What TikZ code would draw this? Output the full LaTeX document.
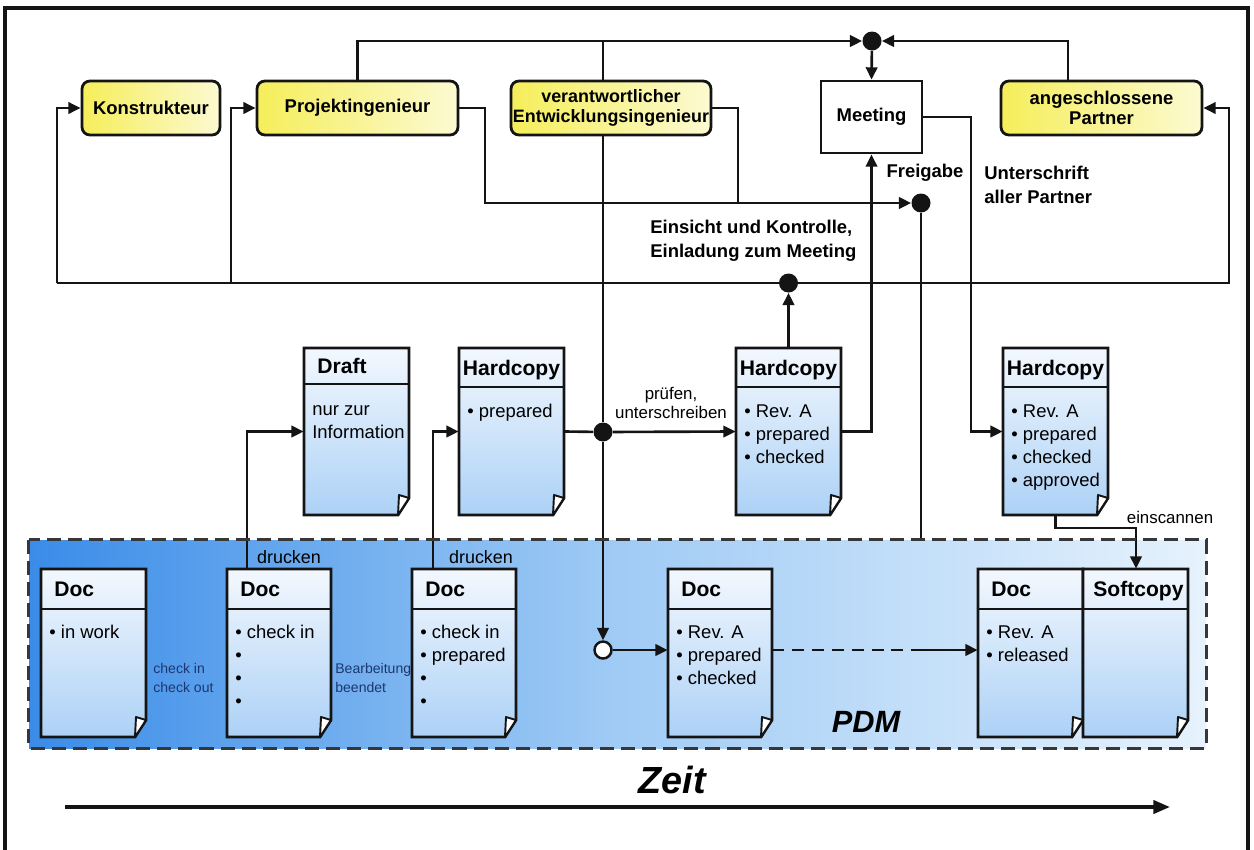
\documentclass[tikz,border=0pt]{standalone}
\usepackage{fontspec}
\setmainfont{Liberation Sans}
\usetikzlibrary{arrows.meta,fit}

\definecolor{ink}{RGB}{20,20,20}
\definecolor{roleL}{RGB}{245,238,90}
\definecolor{roleR}{RGB}{252,250,210}
\definecolor{docTop}{RGB}{243,248,254}
\definecolor{docBot}{RGB}{172,209,246}
\definecolor{pdmL}{RGB}{58,140,232}
\definecolor{pdmM}{RGB}{160,203,245}
\definecolor{pdmR}{RGB}{230,242,253}
\definecolor{noteblue}{RGB}{30,55,110}

% paper sheet with header band and folded corner
% #1 name, #2 x1, #3 y1, #4 x2, #5 y2, #6 header line y, #7 title, #8 title indent
\newcommand{\paperdoc}[8]{%
  \path[docbody] (#2,#3) -- (#4,#3) -- (#4,#5-17) -- (#4-11,#5) -- (#2,#5) -- cycle;
  \draw[docline] (#2,#3) -- (#4,#3) -- (#4,#5-17) -- (#4-11,#5) -- (#2,#5) -- cycle;
  \draw[docline] (#2,#6) -- (#4,#6);
  \draw[docline, fill=white, line join=round, line width=1.1pt] (#4,#5-17) -- (#4-10,#5-20) -- (#4-11,#5) -- cycle;
  \node[fit={(#2,#3)(#4,#5)}, inner sep=0pt] (#1) {};
  \node[doctitle, anchor=base west] (#1-title) at (#2+#8,{(#3+#6)/2+7.5}) {#7};
}
% list entries of a sheet: #1 name, #2 x, #3 first baseline y, #4 entries
\newcommand{\docitems}[4]{%
  \foreach \t [count=\i] in {#4} {
    \node[docitem, anchor=base west] (#1-\i) at (#2,{#3+(\i-1)*23}) {\t};
  }
}

\begin{document}
\begin{tikzpicture}[x=0.02cm,y=-0.02cm,
  conn/.style={line width=1.5pt, draw=ink},
  arr/.style={conn, -{Triangle[length=7pt,width=6.5pt]}},
  role/.style={draw=ink, line width=1.6pt, rounded corners=4.5pt,
    left color=roleL, right color=roleR, align=center, inner sep=0pt,
    minimum height=1.08cm, font=\fontsize{10.5}{11.5}\selectfont\bfseries},
  meet/.style={draw=ink, line width=1.6pt, fill=white, inner sep=0pt,
    font=\fontsize{10.5}{12}\selectfont\bfseries},
  dot/.style={circle, fill=ink, inner sep=0pt, minimum size=0.38cm},
  odot/.style={circle, draw=ink, fill=white, line width=1.4pt, inner sep=0pt, minimum size=0.34cm},
  docline/.style={draw=ink, line width=1.6pt},
  docbody/.style={top color=docTop, bottom color=docBot},
  doctitle/.style={font=\fontsize{12}{14}\selectfont\bfseries, inner sep=0pt},
  docitem/.style={font=\fontsize{10.5}{12}\selectfont, inner sep=0pt},
  boldlbl/.style={inner sep=0pt, align=left, font=\fontsize{10.5}{13.5}\selectfont\bfseries},
  smalllbl/.style={inner sep=0pt, align=center, font=\fontsize{9.6}{10.8}\selectfont},
  notelbl/.style={inner sep=0pt, align=left, text=noteblue, font=\fontsize{8}{11.3}\selectfont},
]
\useasboundingbox (0,0) rectangle (1254,849);

% outer frame
\draw[line width=1.8pt, ink] (5,880) -- (5,8) -- (1248,8) -- (1248,880);

% PDM area
\path[left color=pdmL, right color=pdmR, middle color=pdmM] (29,540) rectangle (1206,748);
\node[fit={(29,540)(1206,748)}, inner sep=0pt] (pdm) {};

% roles
\node[role, minimum width=2.76cm] (kon) at (151,108) {Konstrukteur};
\node[role, minimum width=4.02cm] (proj) at (357.5,108) {Projektingenieur};
\node[role, minimum width=4.0cm, font=\fontsize{10.2}{11.5}\selectfont\bfseries] (ver) at (611,108) {verantwortlicher\\Entwicklungsingenieur};
\node[meet, minimum width=2.02cm, minimum height=1.44cm] (meet) at (871.5,117) {Meeting};
\node[role, minimum width=4.02cm] (part) at (1101.5,108) {angeschlossene\\Partner};

% sheets
\paperdoc{draft}{304}{348}{409}{515}{384}{Draft}{13}
\docitems{draft}{312}{415}{nur zur, Information}
\paperdoc{hc1}{459}{348}{564}{515}{387}{Hardcopy}{3.5}
\docitems{hc1}{467}{417}{• prepared}
\paperdoc{hc2}{736}{348}{841}{515}{387}{Hardcopy}{3.5}
\docitems{hc2}{744}{417}{• Rev. A, • prepared, • checked}
\paperdoc{hc3}{1003}{348}{1108}{515}{387}{Hardcopy}{3.5}
\docitems{hc3}{1011}{417}{• Rev. A, • prepared, • checked, • approved}

\paperdoc{doc1}{41}{569}{146}{737}{609}{Doc}{13}
\docitems{doc1}{49}{638}{• in work}
\paperdoc{doc2}{227}{569}{331}{737}{609}{Doc}{13}
\docitems{doc2}{235}{638}{• check in, •, •, •}
\paperdoc{doc3}{412}{569}{516}{737}{609}{Doc}{13}
\docitems{doc3}{420}{638}{• check in, • prepared, •, •}
\paperdoc{doc4}{668}{569}{772}{737}{609}{Doc}{13}
\docitems{doc4}{676}{638}{• Rev. A, • prepared, • checked}
\paperdoc{doc5}{978}{569}{1083}{737}{609}{Doc}{13}
\docitems{doc5}{986}{638}{• Rev. A, • released}
\paperdoc{soft}{1083}{569}{1188}{737}{609}{Softcopy}{10}

% junctions
\node[dot] (top) at (872,41) {};
\node[dot] (fg) at (921,203) {};
\node[dot] (ein) at (788.5,283) {};
\node[dot] (x) at (603,432) {};
\node[odot] (o) at (603,650) {};

\coordinate (kL) at (57,283);
\coordinate (pL) at (231,283);
\coordinate (rR) at (1229,283);
\coordinate (vTop) at (603,41);
\coordinate (partUp) at (1068,41);
\coordinate (pjR) at (485,108);
\coordinate (vrR) at (738,108);
\coordinate (mR) at (971,117);
\coordinate (d2up) at (247,569);
\coordinate (d3up) at (433,569);
\coordinate (dashend) at (911,650);
\coordinate (scan) at (1136,528);

% connectors of the roles
\draw[arr] (proj.north) |- (top.west);
\draw[conn] (vTop) -- (vTop |- ver.north);
\draw[arr] (partUp |- part.north) |- (top.east);
\draw[arr] (top) -- (meet.north);
\draw[arr] (kL) |- (kon.west);
\draw[arr] (pL) |- (proj.west);
\draw[arr] (kL) -- (rR) |- (part.east);
\draw[arr] (hc2.north) -- (ein);
\draw[arr] (proj.east) -- (pjR) |- (fg.west);
\draw[conn] (ver.east) -- (vrR) -- (vrR |- fg);
\draw[conn] (fg) -- (fg |- pdm.north);
\draw[arr] (meet.east) -- (mR) |- (hc3.west);
\draw[arr] (hc2.east) -| (meet.south);

% document flow
\draw[conn] (hc1.east) -- (x);
\draw[arr] (x) -- (hc2.west);
\draw[conn] (vTop |- ver.south) -- (x);
\draw[arr] (x) -- (o);
\draw[arr] (d2up) |- (draft.west);
\draw[arr] (d3up) |- (hc1.west);
\draw[arr] (o) -- (o -| doc4.west);
\draw[conn, dash pattern=on 6.8pt off 4.5pt] (o -| doc4.east) -- (dashend);
\draw[arr] (dashend) -- (dashend -| doc5.west);
\draw[arr] (hc3.south) |- (scan) -- (scan |- soft.north);

% PDM border
\draw[ink!85, line width=1.4pt, dash pattern=on 8pt off 4pt] (pdm.north west) rectangle (pdm.south east);

% labels
\node[boldlbl, anchor=west] (lblein) at (650,241) {Einsicht und Kontrolle,\\Einladung zum Meeting};
\node[boldlbl] (lblfg) at (925,173) {Freigabe};
\node[boldlbl, anchor=west] (lblus) at (984,185) {Unterschrift\\aller Partner};
\node[smalllbl] (lblpr) at (671,403) {prüfen,\\unterschreiben};
\node[smalllbl, font=\fontsize{10.2}{12}\selectfont] (lbldr1) at (289,557) {drucken};
\node[smalllbl, font=\fontsize{10.2}{12}\selectfont] (lbldr2) at (481,557) {drucken};
\node[smalllbl] (lblsc) at (1170,517) {einscannen};
\node[notelbl, anchor=west] (lblci) at (153,678) {check in\\check out};
\node[notelbl, anchor=west] (lblbb) at (335,678) {Bearbeitung\\beendet};
\node[inner sep=0pt, font=\fontsize{17.5}{20}\selectfont\bfseries\itshape] (lblpdm) at (866,722) {PDM};
\node[inner sep=0pt, font=\fontsize{21.5}{24}\selectfont\bfseries\itshape] (lblzeit) at (672,780) {Zeit};

% time axis
\coordinate (t0) at (65,807);
\coordinate (t1) at (1170,807);
\draw[ink, line width=2pt, -{Triangle[length=9.5pt,width=7.5pt]}] (t0) -- (t1);
\end{tikzpicture}
\end{document}
